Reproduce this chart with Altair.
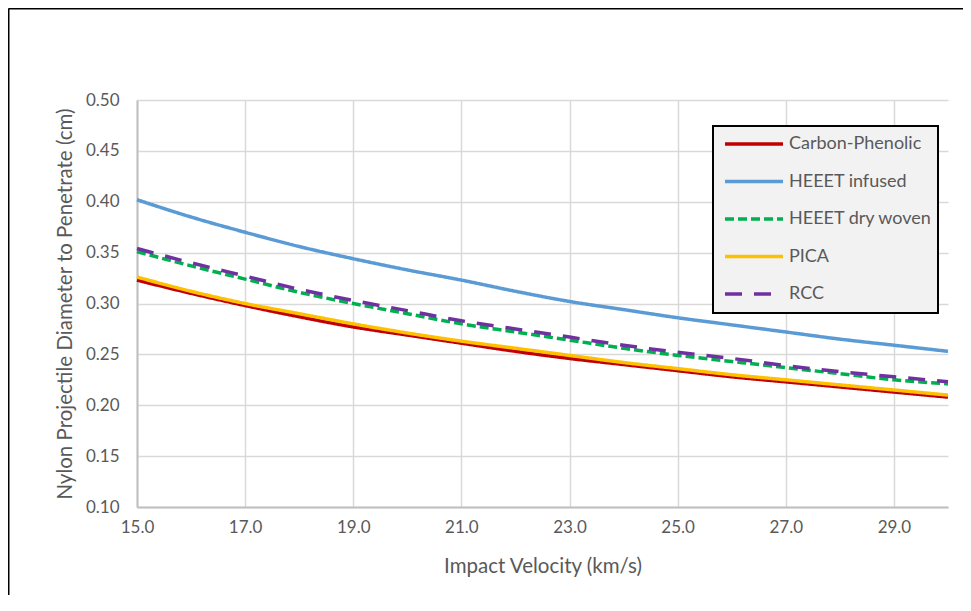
import altair as alt
import pandas as pd

velocity = [15, 16, 17, 18, 19, 20, 21, 22, 23, 24, 25, 26, 27, 28, 29, 30]
series = ["Carbon-Phenolic", "HEEET infused", "HEEET dry woven", "PICA", "RCC"]
carbon_phenolic = [0.323, 0.310, 0.298, 0.287, 0.277, 0.269, 0.261, 0.253,
                   0.246, 0.240, 0.234, 0.228, 0.223, 0.218, 0.213, 0.208]
heeet_infused = [0.402, 0.385, 0.370, 0.356, 0.344, 0.333, 0.323, 0.312,
                 0.302, 0.294, 0.286, 0.279, 0.272, 0.265, 0.259, 0.253]
heeet_dry_woven = [0.351, 0.337, 0.324, 0.311, 0.300, 0.290, 0.280, 0.272,
                   0.264, 0.256, 0.249, 0.243, 0.237, 0.231, 0.225, 0.221]
pica = [0.326, 0.312, 0.300, 0.290, 0.280, 0.271, 0.263, 0.256,
        0.249, 0.242, 0.236, 0.230, 0.225, 0.220, 0.215, 0.210]
rcc = [0.354, 0.340, 0.327, 0.314, 0.303, 0.293, 0.283, 0.275,
       0.267, 0.259, 0.252, 0.246, 0.239, 0.233, 0.228, 0.223]

x_ticks = [15, 17, 19, 21, 23, 25, 27, 29]
y_ticks = [0.10, 0.15, 0.20, 0.25, 0.30, 0.35, 0.40, 0.45, 0.50]

colors = ["#C00000", "#5B9BD5", "#00B050", "#FFC000", "#7030A0"]
dashes = [[1, 0], [1, 0], [9, 4], [1, 0], [17, 12]]

rows = []
for name, vals in zip(series, [carbon_phenolic, heeet_infused, heeet_dry_woven, pica, rcc]):
    for v, d in zip(velocity, vals):
        rows.append({"series": name, "velocity": v, "diameter": d})
df = pd.DataFrame(rows)
leg_df = pd.DataFrame({"series": series})
one = pd.DataFrame({"k": [0]})

FONT = "Lato"
TXT = "#595959"

color_scale = alt.Scale(domain=series, range=colors)
dash_scale = alt.Scale(domain=series, range=dashes)

lines = alt.Chart(df).mark_line(interpolate="monotone", strokeWidth=3.5).encode(
    x=alt.X("velocity:Q", title="Impact Velocity (km/s)",
            scale=alt.Scale(domain=[15, 30], nice=False, zero=False),
            axis=alt.Axis(values=x_ticks, format=".1f", grid=True, gridColor="#d9d9d9",
                          gridWidth=1.5, ticks=False, domainColor="#bfbfbf", domainWidth=2,
                          labelFont=FONT, labelFontSize=17, labelColor=TXT, labelPadding=12,
                          labelFlush=False, labelOverlap=False,
                          titleFont=FONT, titleFontSize=20.5, titleColor=TXT,
                          titleFontWeight="normal", titleX=405.5, titleY=59,
                          titleBaseline="middle", titleAlign="center")),
    y=alt.Y("diameter:Q", title="Nylon Projectile Diameter to Penetrate (cm)",
            scale=alt.Scale(domain=[0.1, 0.5], nice=False, zero=False),
            axis=alt.Axis(values=y_ticks, format=".2f", grid=True, gridColor="#d9d9d9",
                          gridWidth=1.5, ticks=False, domainColor="#bfbfbf", domainWidth=2,
                          labelFont=FONT, labelFontSize=17, labelColor=TXT, labelPadding=18,
                          labelOverlap=False,
                          titleFont=FONT, titleFontSize=20.5, titleColor=TXT,
                          titleFontWeight="normal", titleX=-72, titleY=203.5,
                          titleAngle=270, titleBaseline="middle", titleAlign="center")),
    color=alt.Color("series:N", scale=color_scale, legend=None),
    strokeDash=alt.StrokeDash("series:N", scale=dash_scale, legend=None),
)

legend_box = alt.Chart(one).mark_rect(fill="#f2f2f2", stroke="black", strokeWidth=2).encode(
    x=alt.value(576), x2=alt.value(801), y=alt.value(26), y2=alt.value(213)
)

legend_y = alt.Y("series:N", scale=alt.Scale(type="point", domain=series, range=[44, 194], padding=0),
                 axis=None)

legend_rules = alt.Chart(leg_df).mark_rule(strokeWidth=3.5).encode(
    x=alt.value(588), x2=alt.value(646), y=legend_y,
    color=alt.Color("series:N", scale=color_scale, legend=None),
    strokeDash=alt.StrokeDash("series:N", scale=dash_scale, legend=None),
)

legend_text = alt.Chart(leg_df).mark_text(
    align="left", baseline="middle", font=FONT, fontSize=18, color=TXT
).encode(x=alt.value(652), y=legend_y, text="series:N")

frame_top = alt.Chart(one).mark_rule(color="black", strokeWidth=2).encode(
    x=alt.value(-128.5), x2=alt.value(834), y=alt.value(-91.5)
)
frame_left = alt.Chart(one).mark_rule(color="black", strokeWidth=2).encode(
    x=alt.value(-128.5), y=alt.value(-91.5), y2=alt.value(495)
)

chart = alt.layer(
    lines, legend_box, legend_rules, legend_text, frame_top, frame_left
).resolve_scale(y="independent").properties(
    width=811, height=407,
    padding={"left": 129, "top": 92, "right": 15, "bottom": 95},
    autosize=alt.AutoSizeParams(type="none"),
    background="white",
).configure_view(stroke=None)

chart.save("out.html", embed_options={"renderer": "svg", "actions": False})
